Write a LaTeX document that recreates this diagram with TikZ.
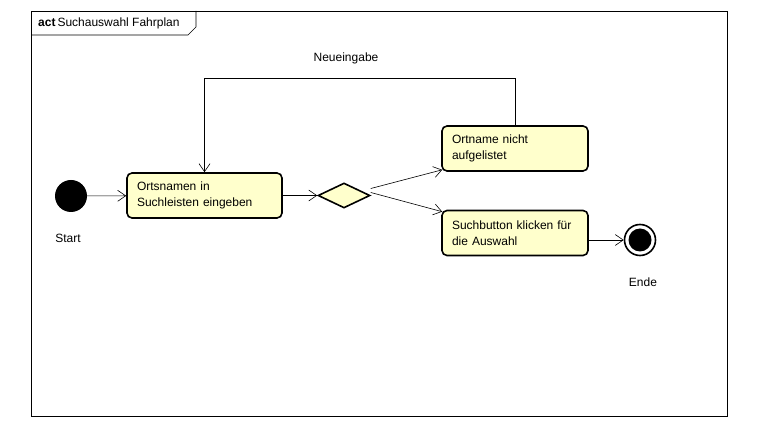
\documentclass[tikz,border=0pt]{standalone}
\usepackage{fontspec}
\setmainfont{Liberation Sans}
\usetikzlibrary{shapes.geometric, arrows.meta}

\definecolor{actfill}{RGB}{255,255,204}

\begin{document}
\begin{tikzpicture}[x=1pt, y=-1pt,
    font=\fontsize{12}{16}\selectfont,
    action/.style={rectangle, rounded corners=5pt, draw=black, line width=1.6pt, fill=actfill, text=black, align=left, inner xsep=10pt, inner ysep=0pt, minimum height=45pt},
    decision/.style={diamond, draw=black, line width=1.6pt, fill=actfill, inner sep=0pt, minimum width=52pt, minimum height=25pt},
    flow/.style={draw=black, line width=0.6pt, -{Straight Barb[length=8pt, width=11pt, line width=0.6pt]}},
    lbl/.style={inner sep=0pt}]
    \useasboundingbox (0, 0) rectangle (760, 427);

    % frame
    \draw[line width=0.6pt] (31, 11) rectangle (727, 416);
    \draw[line width=0.6pt] (31, 35) -- (188, 35) -- (196, 27) -- (196, 11);
    \node (title)[lbl, anchor=west] at (38, 23) {\textbf{act}\,Suchauswahl Fahrplan};

    \node (start)[circle, fill=black, inner sep=0pt, minimum size=32pt] at (71, 196) {};
    \node (startlbl)[lbl] at (68, 238) {Start};

    \node (eingabe)[action, text width=135pt] at (204.5, 195.5) {Ortsnamen in\\Suchleisten eingeben};
    \node (dec)[decision] at (344, 195.5) {};
    \node (nicht)[action, text width=126pt] at (515, 148.5) {Ortname nicht\\aufgelistet};
    \node (suche)[action, text width=126pt] at (515, 233) {Suchbutton klicken f\"ur\\die Auswahl};

    \node (ende)[circle, draw=black, line width=1.6pt, fill=white, inner sep=0pt, minimum size=31pt] at (640, 240) {};
    \node (endedot)[circle, fill=black, inner sep=0pt, minimum size=23pt] at (ende) {};
    \node (endelbl)[lbl] at (643, 282) {Ende};

    \coordinate (back1) at (515, 78);
    \coordinate (back2) at (204.5, 78);
    \node (neu)[lbl] at (346, 58) {Neueingabe};

    \draw [flow] (start) -- (eingabe);
    \draw [flow] (eingabe) -- (dec);
    \draw [flow] ([yshift=7pt]dec.east) -- ([xshift=1pt, yshift=2pt]nicht.south west);
    \draw [flow] ([yshift=3pt]dec.east) -- ([xshift=1pt, yshift=-2pt]suche.north west);
    \draw [flow] (nicht.north) -- (back1) -- (back2) -- (eingabe.north);
    \draw [flow] (suche.east |- ende) -- (ende);
\end{tikzpicture}
\end{document}
